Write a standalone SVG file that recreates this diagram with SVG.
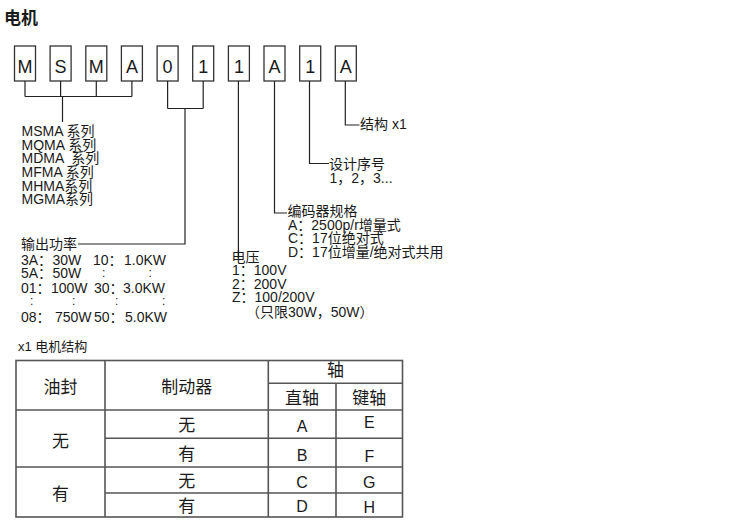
<svg xmlns="http://www.w3.org/2000/svg" width="730" height="522" viewBox="0 0 730 522">
<style>
text{font-family:"Liberation Sans","Noto Sans CJK SC",sans-serif;fill:#1a1a1a}
.lbl{font-size:14px}
.dots{font-size:12px}
.box rect{fill:#fff;stroke:#333;stroke-width:1.3}
.box text{font-size:18px;text-anchor:middle}
.conn{fill:none;stroke:#222;stroke-width:1.2}
.tbl{fill:none;stroke:#555;stroke-width:1.6}
.tc{font-size:17px;text-anchor:middle}
.tl{font-size:16px;text-anchor:middle}
</style>
<rect width="730" height="522" fill="#fff"/>
<text x="4" y="24" style="font-size:17px;font-weight:bold">电机</text>

<g id="codes" class="box">
<g id="c1"><rect x="14.5" y="46" width="21" height="35"/><text x="25" y="72.5">M</text></g>
<g id="c2"><rect x="50.1" y="46" width="21" height="35"/><text x="60.6" y="72.5">S</text></g>
<g id="c3"><rect x="85.8" y="46" width="21" height="35"/><text x="96.3" y="72.5">M</text></g>
<g id="c4"><rect x="121.4" y="46" width="21" height="35"/><text x="131.9" y="72.5">A</text></g>
<g id="c5"><rect x="157.1" y="46" width="21" height="35"/><text x="167.6" y="72.5">0</text></g>
<g id="c6"><rect x="192.7" y="46" width="21" height="35"/><text x="203.2" y="72.5">1</text></g>
<g id="c7"><rect x="228.4" y="46" width="21" height="35"/><text x="238.9" y="72.5">1</text></g>
<g id="c8"><rect x="264" y="46" width="21" height="35"/><text x="274.5" y="72.5">A</text></g>
<g id="c9"><rect x="299.7" y="46" width="21" height="35"/><text x="310.2" y="72.5">1</text></g>
<g id="c10"><rect x="335.3" y="46" width="21" height="35"/><text x="345.8" y="72.5">A</text></g>
</g>

<g id="connectors" class="conn">
<path d="M25 81V96.5M60.6 81V96.5M96.3 81V96.5M131.9 81V96.5M25 96.5H131.9M62.5 96.5V122"/>
<path d="M167.6 81V108.5M203.2 81V108.5M167.6 108.5H203.2M185 108.5V244H78"/>
<path d="M238.4 81V258"/>
<path d="M274.5 81V213H287"/>
<path d="M309.5 81V163.5H329"/>
<path d="M345.3 81V125H359.5"/>
</g>

<g id="series" class="lbl">
<text x="21.5" y="136">MSMA 系列</text>
<text x="21.5" y="149.5">MQMA 系列</text>
<text x="21.5" y="163" xml:space="preserve">MDMA  系列</text>
<text x="21.5" y="177">MFMA 系列</text>
<text x="21.5" y="190.5">MHMA系列</text>
<text x="21.5" y="204">MGMA系列</text>
</g>

<g id="power" class="lbl">
<text x="21" y="249">输出功率</text>
<text y="265"><tspan x="21">3A：</tspan><tspan x="52.5">30W</tspan><tspan x="93">10：</tspan><tspan x="124">1.0KW</tspan></text>
<text y="277.5"><tspan x="21">5A：</tspan><tspan x="52.5">50W</tspan></text>
<text class="dots" y="276.5"><tspan x="102">:</tspan><tspan x="148.5">:</tspan></text>
<text y="293"><tspan x="21">01：</tspan><tspan x="51">100W</tspan><tspan x="94">30：</tspan><tspan x="123">3.0KW</tspan></text>
<text class="dots" y="305"><tspan x="30">:</tspan><tspan x="72">:</tspan><tspan x="115">:</tspan><tspan x="162">:</tspan></text>
<text y="322"><tspan x="21">08：</tspan><tspan x="55">750W</tspan><tspan x="94">50：</tspan><tspan x="125">5.0KW</tspan></text>
</g>

<g id="voltage" class="lbl">
<text x="231.5" y="262">电压</text>
<text x="232" y="275">1：100V</text>
<text x="232" y="288.5">2：200V</text>
<text x="232" y="302">Z：100/200V</text>
<text x="246" y="316.5">（只限30W，50W）</text>
</g>

<g id="encoder" class="lbl">
<text x="287.5" y="216">编码器规格</text>
<text x="288" y="229.5">A：2500p/r增量式</text>
<text x="288" y="243">C：17位绝对式</text>
<text x="288" y="256.5">D：17位增量/绝对式共用</text>
</g>

<g id="design" class="lbl">
<text x="329" y="169">设计序号</text>
<text x="329.5" y="182.5">1，2，3...</text>
</g>

<g id="structure" class="lbl">
<text x="360" y="129">结构 x1</text>
</g>

<g id="table">
<text x="18" y="351" style="font-size:13px">x1 电机结构</text>
<rect class="tbl" x="16" y="360.5" width="386.5" height="156.5"/>
<path class="tbl" d="M105 360.5V517M268.3 360.5V517M336 383.3V517M268.3 383.3H402.5M16 410H402.5M105 438.3H402.5M16 467H402.5M105 493H402.5"/>
<text class="tc" x="60.5" y="393">油封</text>
<text class="tc" x="186.7" y="393">制动器</text>
<text class="tc" x="335.4" y="376">轴</text>
<text class="tc" x="302" y="404">直轴</text>
<text class="tc" x="369.3" y="404">键轴</text>
<text class="tc" x="60.5" y="447">无</text>
<text class="tc" x="60.5" y="500">有</text>
<text class="tc" x="186.7" y="431">无</text>
<text class="tc" x="186.7" y="460">有</text>
<text class="tc" x="186.7" y="487">无</text>
<text class="tc" x="186.7" y="512">有</text>
<text class="tl" x="302" y="431.5">A</text>
<text class="tl" x="369.3" y="428">E</text>
<text class="tl" x="302" y="461">B</text>
<text class="tl" x="369.3" y="461.5">F</text>
<text class="tl" x="302" y="488">C</text>
<text class="tl" x="369.3" y="488">G</text>
<text class="tl" x="302" y="511.5">D</text>
<text class="tl" x="369.3" y="512.5">H</text>
</g>
</svg>
